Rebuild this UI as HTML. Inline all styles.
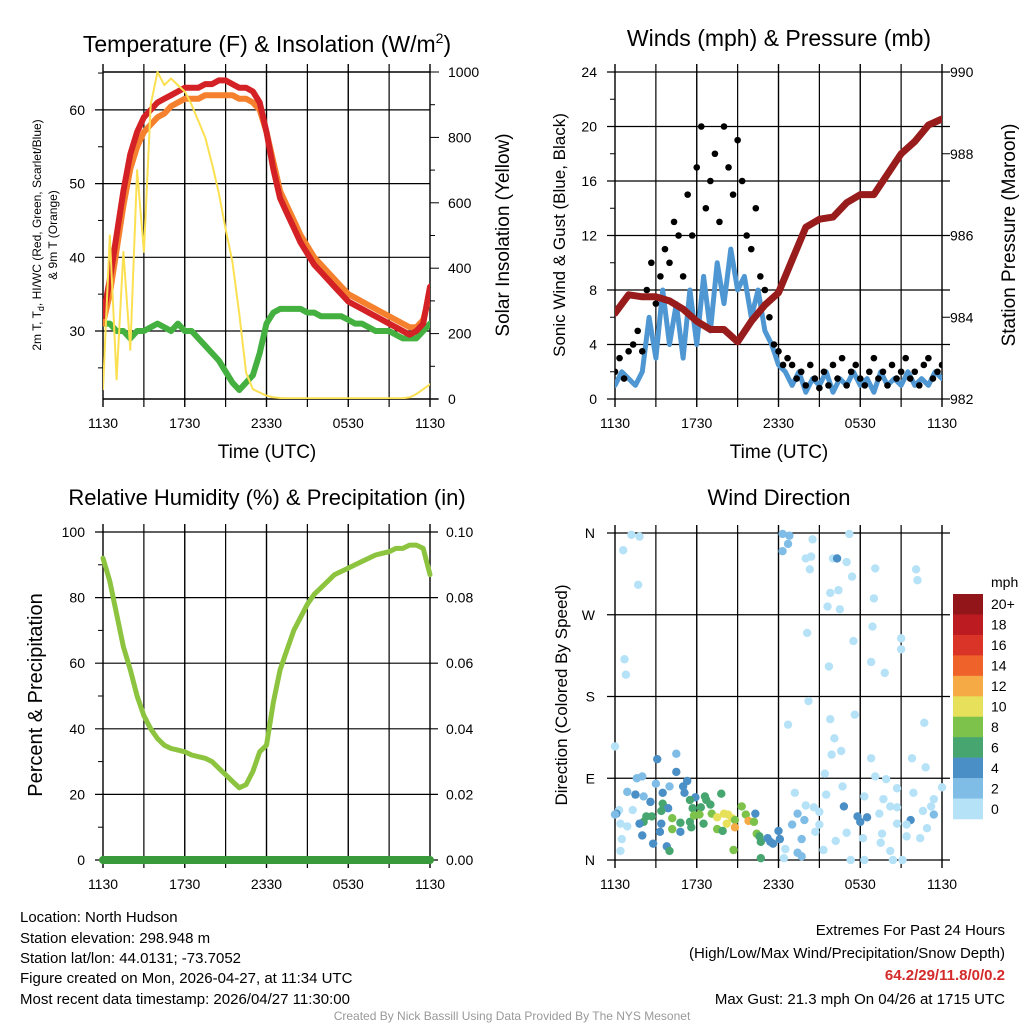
<!DOCTYPE html>
<html><head><meta charset="utf-8"><style>
html,body{margin:0;padding:0;background:#fff;}
svg{display:block;font-family:"Liberation Sans",sans-serif;}
</style></head><body>
<svg id="chart" width="1024" height="1024" viewBox="0 0 1024 1024" xmlns="http://www.w3.org/2000/svg">
<rect width="1024" height="1024" fill="#fff"/>
<g id="g1"></g>
<g id="g2"></g>
<g id="g3"></g>
<g id="g4"></g>
<g font-size="15" fill="#000">
<text x="20" y="922">Location: North Hudson</text>
<text x="20" y="943">Station elevation: 298.948 m</text>
<text x="20" y="963">Station lat/lon: 44.0131; -73.7052</text>
<text x="20" y="983">Figure created on Mon, 2026-04-27, at 11:34 UTC</text>
<text x="20" y="1004">Most recent data timestamp: 2026/04/27 11:30:00</text>
<text x="1005" y="935" text-anchor="end">Extremes For Past 24 Hours</text>
<text x="1005" y="958" text-anchor="end">(High/Low/Max Wind/Precipitation/Snow Depth)</text>
<text x="1005" y="980" text-anchor="end" font-weight="bold" fill="#d42a2a">64.2/29/11.8/0/0.2</text>
<text x="1005" y="1004" text-anchor="end">Max Gust: 21.3 mph On 04/26 at 1715 UTC</text>
<text x="512" y="1020" text-anchor="middle" font-size="12" fill="#999">Created By Nick Bassill Using Data Provided By The NYS Mesonet</text>
</g>
</svg>
<script>
// ---- data ----
const xTickLabels = ["1130","1730","2330","0530","1130"];
const tempRed = [32,37,43,49,54,57,59,60,61,61.5,62,62.5,63,63,63,63.5,63.5,64,64,63.5,63,63,62.5,61,57,52,48,46,44,42,40.5,39,38,37,36,35,34,33.5,33,32.5,32,31.5,31,30.5,30,29.5,30,31,36];
const tempOrange = [31,35,41,47,52,55,57,58,59,59.5,60.5,61,61.5,61.5,61.5,62,62,62,62,62,61.5,61.5,61,60,57,53,49,47,45,43,41.5,40,39,38,37,36,35,34.5,34,33.5,33,32.5,32,31.5,31,30.5,30.5,31.5,35];
const tempDew = [31,31,30,30,29,30,30,30.5,31,30.5,30,31,30,30,29,28,27,26,24.5,23,22,23,24,27,31,32.5,33,33,33,33,32.5,32.5,32,32,32,32,31.5,31,31,30.5,30,30,30,29.5,29,29,29,30,31];
const insolation = [30,500,60,450,150,700,450,900,1000,960,980,960,940,900,850,800,720,630,520,420,260,80,30,20,10,5,3,2,2,2,2,2,2,2,2,2,2,2,2,2,2,2,2,2,2,5,15,30,45];
const tempTicks = [30,40,50,60];
const solarTicks = [0,200,400,600,800,1000];
const windSpeed = [1,2,1.5,1,2,6,3,8,4,7,3,8,4,9,5,10,7,11,8,9,6,8,5,4,2.5,2,1,2,0.5,1.5,1,2,0.5,1.5,1,2,1,1.5,0.5,2,1,1.5,1,2,1,1.5,1,2,1.5];
const windGust = [2,3,1.5,3.5,4,5,3.5,8,10,7,9,11,10,13,12,9,15,12,17,20,14,16,18,13,20,17,15,19,16,12,11,14,9,8,6,4,3.5,2.5,3,2.5,1.5,2,1,2.5,1.5,0.8,2,1,2.5,1.5,3,1,2,2.5,1.5,1,2,3,1.5,2,1,2.5,1.5,2,3,1.5,2,1,2.5,3,1.5,2,2.5];
const pressure = [984.1,984.55,984.5,984.5,984.4,984.2,983.9,983.7,983.7,983.4,983.9,984.3,984.6,985.4,986.2,986.4,986.45,986.8,987.0,987.0,987.5,988.0,988.3,988.7,988.85];
const windTicks = [0,4,8,12,16,20,24];
const pressTicks = [982,984,986,988,990];
const rh = [92,85,75,65,58,50,44,40,37,35,34,33.5,33,32,31.5,31,30,28,26,24,22,23,27,33,35,48,58,64,70,74,78,81,83,85,87,88,89,90,91,92,93,93.5,94,95,95,96,96,95,87];
const precip = [0,0,0,0,0,0,0,0,0,0,0,0,0,0,0,0,0,0,0,0,0,0,0,0,0];
const rhTicks = [0,20,40,60,80,100];
const precipTicks = ["0.00","0.02","0.04","0.06","0.08","0.10"];
const dirHour = [1.2,1.8,0.6,1.7,0.7,0.8,0,12.3,12.8,12.7,12.3,14.5,17.2,14.0,14.4,14.3,16.0,16.3,17.0,17.4,19.1,22.1,22.2,15.8,16.4,15.6,16.5,19.0,14.1,18.9,17.5,21.0,21.0,18.8,15.7,19.8,14.2,17.6,12.7,15.8,22.7,16.1,16.6,15.9,18.8,21.8,22.8,15.4,19.1,19.9,24,16.7,20.7,21.9,13.2,15.5,18.3,19.7,23.4,14.0,14.6,16.8,19.4,20.2,20.7,22.6,13.4,13.9,13.0,15.0,17.8,18.5,18.0,21.7,23.4,21.4,23.2,15.0,14.7,17.0,18.2,16.2,19.6,20.7,21.4,22.4,22.9,15.3,19.5,20.2,17.3,18.3,20.4,21.1,12.5,12.4,13.7,13.4,13.7,
4.5,3.1,4.5,5.3,5.0,5.1,1.6,2.0,3.0,4.0,0.9,1.5,2.1,2.6,3.5,5.9,5.5,6.6,6.7,7.8,3.5,3.9,3.4,5.7,6.3,7.0,1.3,0.3,0.1,2.3,2.7,2.1,1.8,3.4,4.2,4.8,5.5,6.5,5.8,6.2,7.1,7.5,8.0,8.3,8.6,8.2,8.8,9.3,9.6,9.8,10.2,10.3,8.8,7.5,7.9,4.2,5.6,4.8,3.3,2.0,2.8,3.8,4.0,10.4,10.6,10.7,11.2,11.4,11.6,12.1,12.0,10.7,8.7,0.4,0.9,0.5,0.4,0];
const dirDeg = [358,356,341,303,221,204,125,359,357,348,340,353,359,332,334,320,332,332,328,312,321,320,308,294,297,279,276,288,250,257,241,244,232,218,213,206,175,160,149,155,151,134,120,116,112,112,102,95,92,89,80,81,79,74,74,72,70,67,67,60,58,59,51,59,58,54,51,44,39,53,48,47,42,44,50,39,59,39,31,30,24,21,29,40,26,24,35,11,19,10,0,0,0,0,12,2,23,8,4,
117,111,97,87,81,74,90,92,84,81,75,72,70,64,74,69,66,70,66,73,62,57,54,57,58,61,55,55,51,48,48,42,40,40,46,41,42,40,49,50,51,47,51,50,46,40,44,59,50,43,42,51,36,34,32,34,36,31,31,27,18,15,10,29,26,20,24,20,18,23,32,2,11,40,37,23,10,50];
const dirSpeed = [1,1,1,1,1,1,1,3,3,3,3,1,1,1,1,1,1,5,1,1,1,1,1,1,1,1,1,1,1,1,1,1,1,1,1,1,1,1,1,1,1,1,1,1,1,1,1,1,1,1,1,1,1,1,1,1,1,1,1,1,1,5,1,1,1,1,3,3,3,1,5,5,5,5,3,1,1,1,1,1,1,1,1,1,1,1,1,1,1,1,1,1,1,1,1,1,3,3,3,
3,5,5,5,5,5,3,3,3,3,3,5,3,5,5,5,7,7,7,7,7,5,7,7,7,7,1,1,5,7,7,7,5,5,9,7,7,7,9,9,9,11,11,11,11,11,9,9,9,13,9,5,13,9,7,9,7,5,5,5,5,5,7,9,7,7,5,5,5,5,5,7,9,1,1,1,1,3];
const cbLabels = ["20+","18","16","14","12","10","8","6","4","2","0"];
const cbColors = ["#921519","#bc1b22","#da3327","#ef6229","#f6aa45","#e6e05a","#7cc24b","#47a66f","#4a8fc6","#80bde6","#b6e2f8"];

// ---- helpers ----
const NS="http://www.w3.org/2000/svg";
function mk(parent,tag,attrs,name,inter){
  const e=document.createElementNS(NS,tag);
  for(const k in attrs) e.setAttribute(k,attrs[k]);
  
  
  parent.appendChild(e);return e;
}
function txt(parent,x,y,s,size,anchor,name,extra){
  const t=mk(parent,'text',Object.assign({x:x,y:y,'font-size':size,'text-anchor':anchor||'middle',fill:'#000'},extra||{}),name,false);
  t.textContent=s;return t;
}
function panel(g,L,T,R,B){
  for(let i=0;i<=8;i++){
    const x=L+(R-L)*i/8;
    mk(g,'line',{x1:x,y1:T-8,x2:x,y2:B+8,stroke:'#000','stroke-width':i%2?1.2:1.4},'x-gridline',false);
  }
  for(let i=0;i<5;i++){
    txt(g,L+(R-L)*i/4,B+29,xTickLabels[i],14,'middle','x-tick-label');
  }
}
function linePath(g,vals,xf,yf,color,w,name){
  let d='';
  vals.forEach((v,i)=>{d+=(i?'L':'M')+xf(i).toFixed(1)+' '+yf(v).toFixed(1);});
  return mk(g,'path',{d:d,fill:'none',stroke:color,'stroke-width':w,'stroke-linejoin':'round','stroke-linecap':'round'},name,false);
}

// ---- panel 1 ----
(function(){
  const g=document.getElementById('g1');
  const L=103,R=430,T=72,B=399;
  const yT=v=>331-(v-30)*7.37, yS=v=>B-v*(B-T)/1000, xh=i=>L+(R-L)*i/48;
  tempTicks.forEach(v=>{mk(g,'line',{x1:L-8,y1:yT(v),x2:R,y2:yT(v),stroke:'#000','stroke-width':1.2},'y-gridline',false);
    txt(g,L-18,yT(v)+5,String(v),14,'end','y-tick-label');});
  [25,35,45,55,65].forEach(v=>mk(g,'line',{x1:L-5,y1:yT(v),x2:L,y2:yT(v),stroke:'#000'},'y-minor-tick',false));
  panel(g,L,T,R,B);
  mk(g,'line',{x1:L,y1:T,x2:R,y2:T,stroke:'#000','stroke-width':1.4},'top-border',false);
  mk(g,'line',{x1:L,y1:B,x2:R+8,y2:B,stroke:'#000','stroke-width':1.4},'bottom-border',false);
  solarTicks.forEach(v=>{mk(g,'line',{x1:R,y1:yS(v),x2:R+9,y2:yS(v),stroke:'#000'},'right-tick',false);
    txt(g,R+18,yS(v)+5,String(v),14,'start','right-tick-label');});
  [100,300,500,700,900].forEach(v=>mk(g,'line',{x1:R,y1:yS(v),x2:R+5,y2:yS(v),stroke:'#000'},'right-minor-tick',false));
  const cp=mk(g,'clipPath',{id:'c1'},'clip',false);mk(cp,'rect',{x:L,y:T-6,width:R-L,height:B-T+6},'clip-rect',false);
  const pg=mk(g,'g',{'clip-path':'url(#c1)'},'series-group',false);
  linePath(pg,tempDew,xh,yT,'#43b03f',6,'dewpoint-line');
  linePath(pg,tempOrange,xh,yT,'#f5812e',6,'9m-temperature-line');
  linePath(pg,tempRed,xh,yT,'#d42126',6,'2m-temperature-line');
  linePath(pg,insolation,xh,yS,'#fbe052',2,'solar-insolation-line');
  txt(g,267,52,'Temperature (F) & Insolation (W/m',23,'middle','panel-title').innerHTML='Temperature (F) &amp; Insolation (W/m<tspan dy="-9" font-size="14">2</tspan><tspan dy="9">)</tspan>';
  txt(g,267,458,'Time (UTC)',19,'middle','x-axis-title');
  const yl=mk(g,'text',{x:0,y:0,'font-size':12,'text-anchor':'middle',transform:'translate(41,235) rotate(-90)'},'y-axis-title',false);
  yl.innerHTML='2m T, T<tspan dy="3" font-size="9">d</tspan><tspan dy="-3">, HI/WC (Red, Green, Scarlet/Blue)</tspan>';
  const yl2=mk(g,'text',{x:0,y:0,'font-size':12,'text-anchor':'middle',transform:'translate(57,235) rotate(-90)'},'y-axis-title-line2',false);
  yl2.textContent='& 9m T (Orange)';
  txt(g,0,0,'Solar Insolation (Yellow)',19,'middle','right-axis-title',{transform:'translate(509,235) rotate(-90)'});
})();

// ---- panel 2 ----
(function(){
  const g=document.getElementById('g2');
  const L=615,R=942,T=72,B=399;
  const yW=v=>B-v*(B-T)/24, yP=v=>B-(v-982)*(B-T)/8;
  windTicks.forEach(v=>{mk(g,'line',{x1:L-8,y1:yW(v),x2:R+8,y2:yW(v),stroke:'#000','stroke-width':1.2},'y-gridline',false);
    txt(g,L-18,yW(v)+5,String(v),14,'end','y-tick-label');});
  [2,6,10,14,18,22].forEach(v=>mk(g,'line',{x1:L,y1:yW(v),x2:L-5,y2:yW(v),stroke:'#000'},'y-minor-tick',false));
  panel(g,L,T,R,B);
  pressTicks.forEach(v=>{mk(g,'line',{x1:R,y1:yP(v),x2:R+8,y2:yP(v),stroke:'#000'},'right-tick',false);
    txt(g,R+8,yP(v)+5,String(v),14,'start','right-tick-label');});
  const cp=mk(g,'clipPath',{id:'c2'},'clip',false);mk(cp,'rect',{x:L,y:T,width:R-L,height:B-T+3},'clip-rect',false);
  const pg=mk(g,'g',{'clip-path':'url(#c2)'},'series-group',false);
  linePath(pg,windSpeed,i=>L+(R-L)*i/48,yW,'#4f97d3',5,'sonic-wind-line');
  windGust.forEach((v,i)=>mk(pg,'circle',{cx:L+(R-L)*i/72,cy:yW(v),r:3.3,fill:'#000'},'gust-point',false));
  linePath(pg,pressure,i=>L+(R-L)*i/24,yP,'#981c1c',7,'pressure-line');
  txt(g,779,46,'Winds (mph) & Pressure (mb)',23,'middle','panel-title');
  txt(g,779,458,'Time (UTC)',19,'middle','x-axis-title');
  txt(g,0,0,'Sonic Wind & Gust (Blue, Black)',17,'middle','y-axis-title',{transform:'translate(565,235) rotate(-90)'});
  txt(g,0,0,'Station Pressure (Maroon)',19,'middle','right-axis-title',{transform:'translate(1015,235) rotate(-90)'});
})();

// ---- panel 3 ----
(function(){
  const g=document.getElementById('g3');
  const L=103,R=430,T=532,B=860;
  const yR=v=>B-v*(B-T)/100, yPr=v=>B-v*(B-T)/0.1;
  rhTicks.forEach((v,i)=>{mk(g,'line',{x1:L-8,y1:yR(v),x2:R+8,y2:yR(v),stroke:'#000','stroke-width':1.2},'y-gridline',false);
    txt(g,L-18,yR(v)+5,String(v),14,'end','y-tick-label');
    txt(g,R+16,yR(v)+5,precipTicks[i],14,'start','right-tick-label');});
  [10,30,50,70,90].forEach(v=>mk(g,'line',{x1:L,y1:yR(v),x2:L-5,y2:yR(v),stroke:'#000'},'y-minor-tick',false));
  panel(g,L,T,R,B);
  linePath(g,rh,i=>L+(R-L)*i/48,yR,'#8cc43f',5,'relative-humidity-line');
  linePath(g,precip,i=>L+(R-L)*i/24,yPr,'#389a3a',8,'precipitation-line');
  txt(g,267,505,'Relative Humidity (%) & Precipitation (in)',22,'middle','panel-title');
  txt(g,0,0,'Percent & Precipitation',20,'middle','y-axis-title',{transform:'translate(42,695) rotate(-90)'});
})();

// ---- panel 4 ----
(function(){
  const g=document.getElementById('g4');
  const L=615,R=942,T=533,B=860;
  const yD=v=>B-v*(B-T)/360, xH=h=>L+(R-L)*h/24;
  ["N","E","S","W","N"].forEach((s,i)=>{const v=i*90;
    mk(g,'line',{x1:L-8,y1:yD(v),x2:R+8,y2:yD(v),stroke:'#000','stroke-width':1.2},'y-gridline',false);
    txt(g,L-20,yD(v)+5,s,14,'end','direction-tick-label');});
  panel(g,L,T,R,B);
  dirHour.forEach((h,i)=>{
    const bin=Math.min(10,Math.floor(dirSpeed[i]/2));
    mk(g,'circle',{cx:xH(h),cy:yD(dirDeg[i]),r:4.2,fill:cbColors[10-bin]},'direction-point',false);
  });
  txt(g,779,505,'Wind Direction',22,'middle','panel-title');
  txt(g,0,0,'Direction (Colored By Speed)',17,'middle','y-axis-title',{transform:'translate(567,695) rotate(-90)'});
  const cb=mk(g,'g',{},'speed-colorbar',false);
  const h=(819-594)/cbColors.length;
  cbColors.forEach((c,i)=>{mk(cb,'rect',{x:953,y:594+i*h,width:30,height:h+0.3,fill:c},'colorbar-box',false);
    txt(cb,991,594+i*h+h/2+5,cbLabels[i],14,'start','colorbar-label');});
  txt(cb,991,587,'mph',14,'start','colorbar-title');
})();
</script>
</body></html>
